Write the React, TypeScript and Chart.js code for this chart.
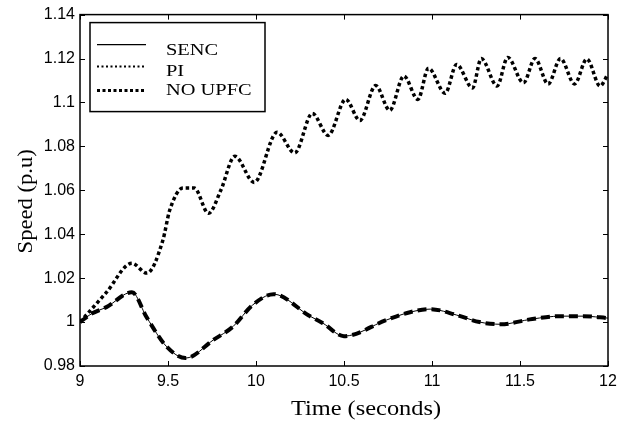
import React, { useEffect, useRef } from "react";
import { Chart, registerables } from "chart.js";

Chart.register(...registerables);

// ---- Axis ticks ----
const X_TICKS = [9, 9.5, 10, 10.5, 11, 11.5, 12];
const X_TICK_LABELS = ["9", "9.5", "10", "10.5", "11", "11.5", "12"];
const Y_TICKS = [0.98, 1, 1.02, 1.04, 1.06, 1.08, 1.1, 1.12, 1.14];
const Y_TICK_LABELS = ["0.98", "1", "1.02", "1.04", "1.06", "1.08", "1.1", "1.12", "1.14"];

const X_TITLE = "Time (seconds)";
const Y_TITLE = "Speed (p.u)";
const SERIES_LABELS = ["SENC", "PI", "NO UPFC"];

// ---- Series ----
const SENC_TIME = [9.0, 9.07, 9.15, 9.295, 9.38, 9.49, 9.6, 9.76, 9.87, 9.98, 10.1, 10.3, 10.38, 10.5, 10.74, 10.875, 10.99, 11.14, 11.27, 11.39, 11.57, 11.73, 11.86, 12.0];
const SENC_SPEED = [1.0, 1.004, 1.0068, 1.0136, 1.002, 0.989, 0.9836, 0.992, 0.998, 1.0077, 1.0127, 1.003, 0.9995, 0.9936, 1.0009, 1.0045, 1.0059, 1.0032, 1.0, 0.999, 1.0014, 1.0027, 1.0027, 1.0018];

const PI_TIME = [9.0, 9.07, 9.15, 9.295, 9.38, 9.49, 9.6, 9.76, 9.87, 9.98, 10.1, 10.3, 10.38, 10.5, 10.74, 10.875, 10.99, 11.14, 11.27, 11.39, 11.57, 11.73, 11.86, 12.0];
const PI_SPEED = [1.0, 1.004, 1.0068, 1.0136, 1.002, 0.989, 0.9836, 0.992, 0.998, 1.0077, 1.0127, 1.003, 0.9995, 0.9936, 1.0009, 1.0045, 1.0059, 1.0032, 1.0, 0.999, 1.0014, 1.0027, 1.0027, 1.0018];

const NOUPFC_TIME = [9.0, 9.15, 9.295, 9.38, 9.47, 9.51, 9.585, 9.65, 9.73, 9.8, 9.88, 9.99, 10.12, 10.22, 10.32, 10.41, 10.51, 10.59, 10.68, 10.76, 10.84, 10.92, 10.98, 11.075, 11.14, 11.23, 11.28, 11.37, 11.43, 11.52, 11.585, 11.66, 11.73, 11.81, 11.88, 11.955, 12.0];
const NOUPFC_SPEED = [1.0, 1.0135, 1.0268, 1.0223, 1.037, 1.051, 1.061, 1.061, 1.0495, 1.06, 1.0755, 1.0636, 1.0864, 1.077, 1.095, 1.085, 1.1014, 1.0918, 1.1077, 1.0964, 1.112, 1.1014, 1.1156, 1.1042, 1.1173, 1.1066, 1.12, 1.1075, 1.1205, 1.1089, 1.12, 1.1084, 1.12, 1.1084, 1.1198, 1.1075, 1.113];

const toPoints = (xs: number[], ys: number[]) => xs.map((x, i) => ({ x, y: ys[i] }));

const SANS = '"Liberation Sans", Arial, sans-serif';
const SERIF = '"Liberation Serif", "Times New Roman", serif';

function drawStretched(
  ctx: CanvasRenderingContext2D,
  text: string,
  x: number,
  y: number,
  font: string,
  sx: number,
  rot: number,
  align: CanvasTextAlign,
  baseline: CanvasTextBaseline
) {
  ctx.save();
  ctx.translate(x, y);
  ctx.rotate(rot);
  ctx.scale(sx, 1);
  ctx.font = font;
  ctx.fillStyle = "#000";
  ctx.textAlign = align;
  ctx.textBaseline = baseline;
  ctx.fillText(text, 0, 0);
  ctx.restore();
}

const framePlugin = {
  id: "matlabFrame",
  afterDraw(chart: any) {
    const { ctx, chartArea: a, scales } = chart;
    const xs = scales.x;
    const ys = scales.y;
    ctx.save();
    ctx.strokeStyle = "#000";
    ctx.lineWidth = 1.5;
    ctx.strokeRect(a.left, a.top, a.right - a.left, a.bottom - a.top);
    ctx.lineWidth = 1;
    const L = 5;
    ctx.beginPath();
    X_TICKS.forEach((v) => {
      const px = Math.round(xs.getPixelForValue(v)) + 0.5;
      ctx.moveTo(px, a.bottom);
      ctx.lineTo(px, a.bottom - L);
      ctx.moveTo(px, a.top);
      ctx.lineTo(px, a.top + L);
    });
    Y_TICKS.forEach((v) => {
      const py = Math.round(ys.getPixelForValue(v)) + 0.5;
      ctx.moveTo(a.left, py);
      ctx.lineTo(a.left + L, py);
      ctx.moveTo(a.right, py);
      ctx.lineTo(a.right - L, py);
    });
    ctx.stroke();

    // axis titles
    drawStretched(ctx, X_TITLE, (a.left + a.right) / 2 + 22, chart.height - 13, `20px ${SERIF}`, 1.22, 0, "center", "middle");
    drawStretched(ctx, Y_TITLE, 27, (a.top + a.bottom) / 2 + 11, `20px ${SERIF}`, 1.13, -Math.PI / 2, "center", "middle");

    // legend box
    const bx = a.left + 10;
    const by = a.top + 8;
    const bw = 175;
    const bh = 89;
    ctx.fillStyle = "#fff";
    ctx.fillRect(bx, by, bw, bh);
    ctx.strokeStyle = "#000";
    ctx.lineWidth = 1.5;
    ctx.strokeRect(bx, by, bw, bh);

    const sampleX0 = bx + 7;
    const sampleX1 = bx + 56;
    const rows = [
      { y: by + 22, width: 1.2, dash: [] as number[], textY: by + 32 },
      { y: by + 44, width: 2, dash: [2, 2.5], textY: by + 53 },
      { y: by + 68, width: 3, dash: [3, 2.5], textY: by + 72 },
    ];
    rows.forEach((r, i) => {
      ctx.beginPath();
      ctx.lineWidth = r.width;
      ctx.setLineDash(r.dash);
      ctx.moveTo(sampleX0, r.y);
      ctx.lineTo(sampleX1, r.y);
      ctx.stroke();
      ctx.setLineDash([]);
      drawStretched(ctx, SERIES_LABELS[i], bx + 76, r.textY, `17px ${SERIF}`, 1.2, 0, "left", "alphabetic");
    });
    ctx.restore();
  },
};

export default function App() {
  const canvasRef = useRef<HTMLCanvasElement | null>(null);

  useEffect(() => {
    document.body.style.margin = "0";
    const canvas = canvasRef.current;
    if (!canvas) return;
    const chart = new Chart(canvas, {
      type: "line",
      data: {
        datasets: [
          {
            label: SERIES_LABELS[2],
            data: toPoints(NOUPFC_TIME, NOUPFC_SPEED),
            borderColor: "#000",
            borderWidth: 3.5,
            borderDash: [3.5, 2.8],
            pointRadius: 0,
            cubicInterpolationMode: "monotone",
            fill: false,
          },
          {
            label: SERIES_LABELS[1],
            data: toPoints(PI_TIME, PI_SPEED),
            borderColor: "#000",
            borderWidth: 4,
            borderDash: [9, 5],
            pointRadius: 0,
            cubicInterpolationMode: "monotone",
            fill: false,
          },
          {
            label: SERIES_LABELS[0],
            data: toPoints(SENC_TIME, SENC_SPEED),
            borderColor: "#000",
            borderWidth: 1,
            pointRadius: 0,
            cubicInterpolationMode: "monotone",
            fill: false,
          },
        ],
      },
      options: {
        animation: false,
        responsive: true,
        maintainAspectRatio: false,
        devicePixelRatio: 1,
        layout: { padding: { left: 0, right: 21, top: 12, bottom: 0 } },
        plugins: {
          legend: { display: false },
          tooltip: { enabled: false },
        },
        scales: {
          x: {
            type: "linear",
            min: 9,
            max: 12,
            afterBuildTicks: (s: any) => {
              s.ticks = X_TICKS.map((v) => ({ value: v }));
            },
            afterFit: (s: any) => {
              s.height = 57;
            },
            grid: { display: false, drawTicks: false },
            border: { display: false },
            ticks: {
              autoSkip: false,
              maxRotation: 0,
              padding: 6,
              color: "#000",
              font: { family: SANS, size: 16 },
              callback: (v: any) => X_TICK_LABELS[X_TICKS.indexOf(Number(v))] ?? String(v),
            },
          },
          y: {
            type: "linear",
            min: 0.98,
            max: 1.14,
            afterBuildTicks: (s: any) => {
              s.ticks = Y_TICKS.map((v) => ({ value: v }));
            },
            afterFit: (s: any) => {
              s.width = 80;
            },
            grid: { display: false, drawTicks: false },
            border: { display: false },
            ticks: {
              autoSkip: false,
              padding: 5,
              color: "#000",
              font: { family: SANS, size: 16 },
              callback: (v: any) => Y_TICK_LABELS[Y_TICKS.indexOf(Number(v))] ?? String(v),
            },
          },
        },
      },
      plugins: [framePlugin],
    });
    return () => chart.destroy();
  }, []);

  return (
    <div style={{ position: "relative", width: 629, height: 423, background: "#fff" }}>
      <canvas ref={canvasRef} />
    </div>
  );
}
